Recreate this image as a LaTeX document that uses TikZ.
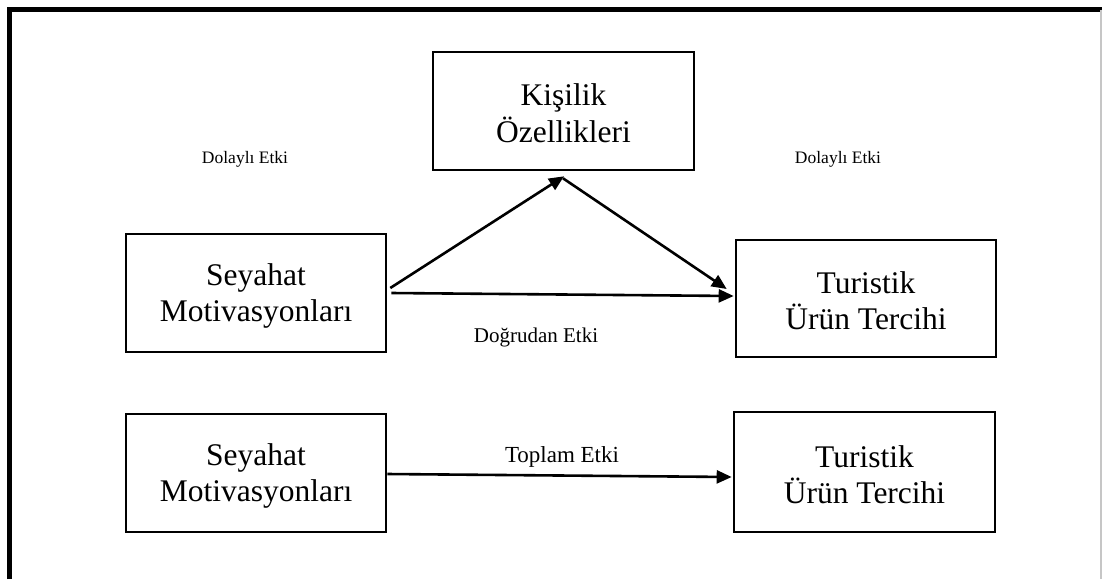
\documentclass[tikz,border=0pt]{standalone}
\usepackage{fontspec}
\setmainfont{Liberation Serif}
\usetikzlibrary{arrows.meta,calc}
% extra room above the first line of a box
\newcommand\boxtop{\rule{0pt}{27pt}}
\begin{document}
\begin{tikzpicture}[x=1pt,y=-1pt,
  box/.style={draw,line width=2.6pt,minimum width=260pt,minimum height=118pt,
    align=center,inner sep=0pt,font=\fontsize{31.5}{36}\selectfont},
  link/.style={line width=2.6pt,-{Triangle[length=15pt,width=13pt]}},
  lbl/.style={anchor=base,inner sep=0pt}]
  \useasboundingbox (0,0) rectangle (1102,579);
  % outer frame (open at the bottom)
  \draw[line width=4.2pt] (9.5,579) -- (9.5,9.5) -- (1102,9.5);
  \draw[gray!45,line width=1.2pt] (1101,9.5) -- (1101,579);

  % model boxes
  \node[box,minimum width=261pt] (kis) at (563.5,111) {\boxtop Kişilik\\[1pt]Özellikleri};
  \node[box] (sm1) at (256,293) {\boxtop Seyahat\\Motivasyonları};
  \node[box,minimum height=117pt] (tu1) at (866,298.5) {\boxtop Turistik\\Ürün Tercihi};
  \node[box] (sm2) at (256,473) {\boxtop Seyahat\\Motivasyonları};
  \node[box,minimum width=261pt,minimum height=120pt] (tu2) at (864.5,472) {\boxtop Turistik\\Ürün Tercihi};

  % indirect path
  \draw[link] ($(sm1.east)+(3,-5)$) -- ($(kis.south)+(0.5,5)$);
  \draw[link] ($(kis.south)+(-0.5,7)$) -- ($(tu1.west)+(-8,-9.5)$);
  % direct path
  \draw[link] ($(sm1.east)+(4,0)$) -- ($(tu1.west)+(-1,-2.5)$);
  % total effect
  \draw[link] ($(sm2.east)+(0,1)$) -- ($(tu2.west)+(-1,5)$);

  % effect labels
  \node[lbl,font=\fontsize{17.5}{21}\selectfont] (d1) at (245,163) {Dolaylı Etki};
  \node[lbl,font=\fontsize{17.5}{21}\selectfont] (d2) at (838,163) {Dolaylı Etki};
  \node[lbl,font=\fontsize{21}{25}\selectfont] (dg) at (536,342) {Doğrudan Etki};
  \node[lbl,font=\fontsize{23}{27}\selectfont] (tp) at (562,462) {Toplam Etki};
\end{tikzpicture}
\end{document}
